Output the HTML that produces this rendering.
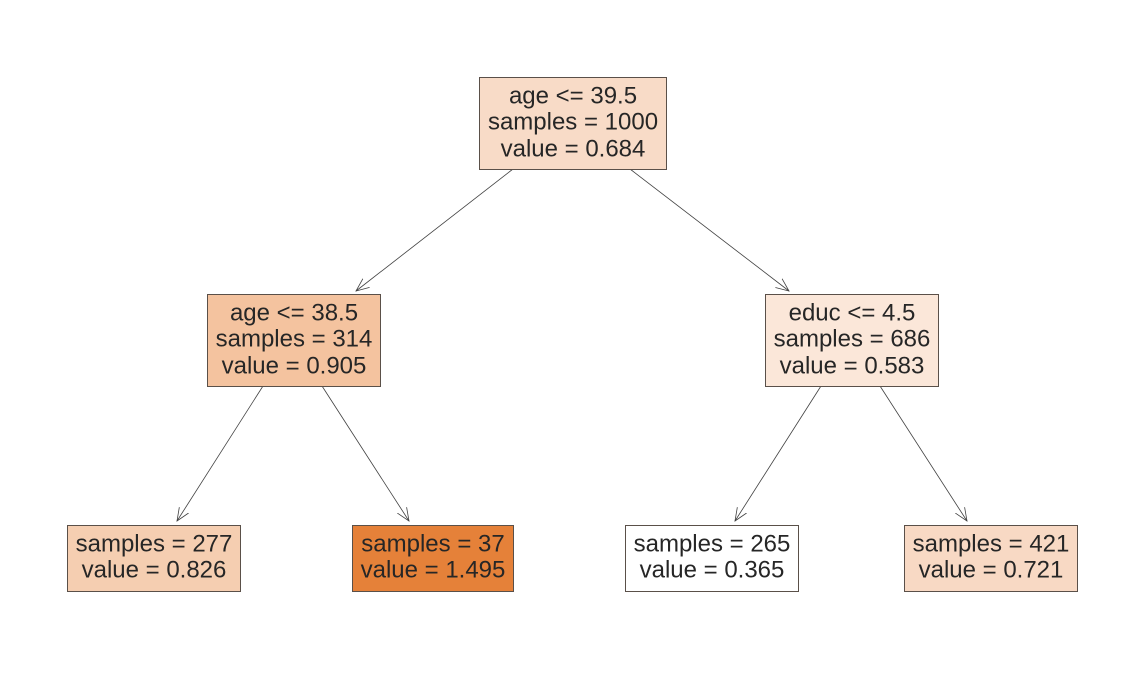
<!DOCTYPE html>
<html><head><meta charset="utf-8"><style>
html,body{margin:0;padding:0;background:#fff;}
svg{display:block;}
text{font-family:"Liberation Sans",Arial,sans-serif;font-size:24px;fill:#262626;text-anchor:middle;dominant-baseline:central;}
rect{stroke:#5a5049;stroke-width:1;}
line,polyline{stroke:#404040;stroke-width:0.8;fill:none;}
</style></head><body>
<svg width="1144" height="681" viewBox="0 0 1144 681">
<defs><marker id="a" markerWidth="14" markerHeight="14" refX="13" refY="7" orient="auto" markerUnits="userSpaceOnUse"><polyline points="0,1.5 13,7 0,12.5" style="stroke:#404040;stroke-width:0.8;fill:none"/></marker></defs>
<line x1="513" y1="169" x2="356" y2="291" marker-end="url(#a)"/>
<line x1="630" y1="169" x2="789" y2="291" marker-end="url(#a)"/>
<line x1="263" y1="386" x2="177" y2="521" marker-end="url(#a)"/>
<line x1="322" y1="386" x2="409" y2="521" marker-end="url(#a)"/>
<line x1="821" y1="386" x2="735" y2="521" marker-end="url(#a)"/>
<line x1="880" y1="386" x2="967" y2="521" marker-end="url(#a)"/>

<rect x="479.5" y="77.5" width="187" height="92" fill="#f8dbc7"/>
<text x="573" y="96">age &lt;= 39.5</text>
<text x="573" y="122">samples = 1000</text>
<text x="573" y="149">value = 0.684</text>

<rect x="207.5" y="294.5" width="173" height="92" fill="#f4c39f"/>
<text x="294" y="313">age &lt;= 38.5</text>
<text x="294" y="339">samples = 314</text>
<text x="294" y="366">value = 0.905</text>

<rect x="765.5" y="294.5" width="173" height="92" fill="#fbe7d9"/>
<text x="852" y="313">educ &lt;= 4.5</text>
<text x="852" y="339">samples = 686</text>
<text x="852" y="366">value = 0.583</text>

<rect x="67.5" y="525.5" width="173" height="66" fill="#f5ceb1"/>
<text x="154" y="544">samples = 277</text>
<text x="154" y="570">value = 0.826</text>

<rect x="352.5" y="525.5" width="161" height="66" fill="#e58139"/>
<text x="433" y="544">samples = 37</text>
<text x="433" y="570">value = 1.495</text>

<rect x="625.5" y="525.5" width="173" height="66" fill="#ffffff"/>
<text x="712" y="544">samples = 265</text>
<text x="712" y="570">value = 0.365</text>

<rect x="904.5" y="525.5" width="173" height="66" fill="#f8d9c4"/>
<text x="991" y="544">samples = 421</text>
<text x="991" y="570">value = 0.721</text>
</svg>
</body></html>
